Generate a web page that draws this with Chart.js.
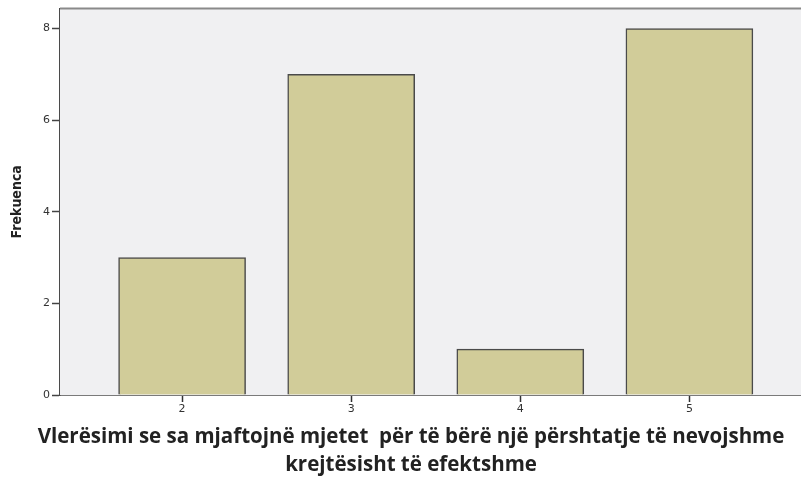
<!DOCTYPE html>
<html>
<head>
<meta charset="utf-8">
<script src="https://cdn.jsdelivr.net/npm/chart.js@4"></script>
<style>
  body { margin: 0; background: #fff; }
  canvas { display: block; }
</style>
</head>
<body>
<canvas id="chart" width="801" height="478"></canvas>
<script>
// Data
const categories = [2, 3, 4, 5];
const frequencies = [3, 7, 1, 8];
const yTicks = [0, 2, 4, 6, 8];
const yTitle = 'Frekuenca';
const xTitleLines = [
    'Vlerësimi se sa mjaftojnë mjetet  për të bërë një përshtatje të nevojshme',
    'krejtësisht të efektshme'
];

// Grey plot background + top frame line
const plotFrame = {
    id: 'plotFrame',
    beforeDatasetsDraw(chart) {
        const { ctx, chartArea: a } = chart;
        ctx.save();
        ctx.fillStyle = '#f0f0f2';
        ctx.fillRect(a.left, a.top, a.right - a.left, a.bottom - a.top);
        ctx.restore();
    },
    afterDraw(chart) {
        const { ctx, chartArea: a } = chart;
        ctx.save();
        ctx.strokeStyle = '#8a8a8a';
        ctx.lineWidth = 2;
        ctx.beginPath();
        ctx.moveTo(a.left, a.top);
        ctx.lineTo(a.right, a.top);
        ctx.stroke();
        ctx.restore();
    }
};

// Two-line x axis title, centred like the original
const xTitle = {
    id: 'xTitle',
    afterDraw(chart) {
        const { ctx, chartArea: a } = chart;
        ctx.save();
        ctx.font = "bold 20.5px 'Open Sans', sans-serif";
        ctx.fillStyle = '#222';
        ctx.textAlign = 'center';
        ctx.textBaseline = 'middle';
        xTitleLines.forEach((line, i) => {
            ctx.fillText(line, 411, a.bottom + 42 + i * 28);
        });
        ctx.restore();
    }
};

const ctx = document.getElementById('chart');
new Chart(ctx, {
    type: 'bar',
    data: {
        datasets: [{
            data: categories.map((c, i) => ({ x: c, y: frequencies[i] })),
            backgroundColor: '#d1cc99',
            borderColor: '#4a4a4a',
            borderWidth: 1.5,
            barThickness: 127
        }]
    },
    options: {
        responsive: false,
        animation: false,
        layout: { padding: { top: 8, left: 0, right: 0, bottom: 0 } },
        plugins: {
            legend: { display: false },
            tooltip: { enabled: false }
        },
        scales: {
            x: {
                type: 'linear',
                offset: false,
                min: 1.278,
                max: 5.66,
                afterBuildTicks: scale => {
                    scale.ticks = categories.map(v => ({ value: v }));
                },
                afterFit: scale => { scale.height = 83; },
                grid: {
                    offset: false,
                    drawOnChartArea: false,
                    drawTicks: true,
                    tickLength: 7,
                    tickWidth: 1.5,
                    color: '#333'
                },
                border: { display: true, color: '#7a7a7a', width: 2 },
                ticks: {
                    padding: 1,
                    color: '#333',
                    font: { family: "'DejaVu Sans', sans-serif", size: 11 }
                }
            },
            y: {
                min: 0,
                max: 8.436,
                afterBuildTicks: scale => {
                    scale.ticks = yTicks.map(v => ({ value: v }));
                },
                afterFit: scale => { scale.width = 60; },
                grid: {
                    drawOnChartArea: false,
                    drawTicks: true,
                    tickLength: 8,
                    tickWidth: 1.5,
                    color: '#444'
                },
                border: { display: true, color: '#4a4a4a', width: 1.5 },
                ticks: {
                    padding: 2,
                    color: '#333',
                    font: { family: "'DejaVu Sans', sans-serif", size: 11 }
                },
                title: {
                    display: true,
                    text: yTitle,
                    color: '#222',
                    padding: { top: 9 },
                    font: { family: "'Liberation Sans Narrow', 'DejaVu Sans Condensed', sans-serif", size: 14, weight: 'bold' }
                }
            }
        }
    },
    plugins: [plotFrame, xTitle]
});
</script>
</body>
</html>
